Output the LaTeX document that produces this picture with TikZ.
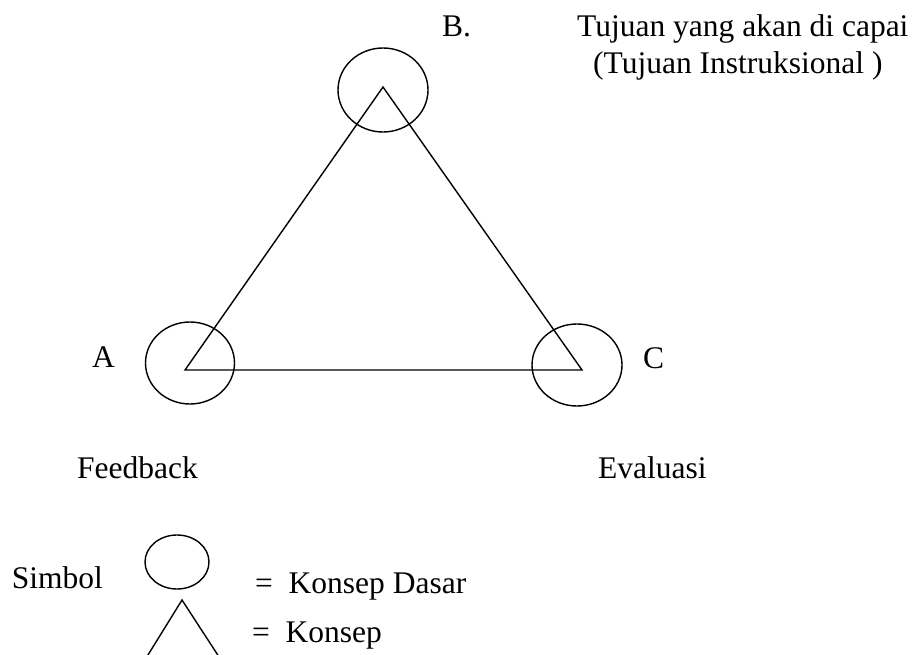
\documentclass[tikz,border=0pt]{standalone}
\usepackage{fontspec}
\setmainfont{Liberation Serif}
\begin{document}
\begin{tikzpicture}[x=1pt,y=-1pt,
  lbl/.style={inner sep=0pt,font=\fontsize{31.5}{36}\selectfont},
  ln/.style={draw=black,line width=1.4pt},
  ell/.style={draw=black,line width=1.4pt,ellipse}]
\useasboundingbox (0,0) rectangle (912,655);
\clip (0,0) rectangle (912,655);
% triangle
\coordinate (tB) at (383,87);
\coordinate (tA) at (185,370);
\coordinate (tC) at (582,370);
\draw[ln,line join=miter] (tA) -- (tB) -- (tC) -- cycle;
% circles
\draw[ln] (383,90) ellipse [x radius=45, y radius=42];
\draw[ln] (190,363) ellipse [x radius=44.5, y radius=41];
\draw[ln] (577,365) ellipse [x radius=45, y radius=41];
% labels
\node[lbl,anchor=base west] (lB) at (442,37) {B.};
\node[lbl,anchor=base west] (lB1) at (577,37) {Tujuan yang akan di capai};
\node[lbl,anchor=base west] (lB2) at (593,74) {(Tujuan Instruksional )};
\node[lbl,anchor=base west] (lA) at (92,367) {A};
\node[lbl,anchor=base west] (lC) at (643,368) {C};
\node[lbl,anchor=base west] (lF) at (77,478) {Feedback};
\node[lbl,anchor=base west] (lE) at (598,478) {Evaluasi};
% legend
\node[lbl,anchor=base east] (lS) at (103,588) {Simbol};
\draw[ln] (177,562) ellipse [x radius=32, y radius=27];
\coordinate (sA) at (182,600);
\coordinate (sL) at (143,663);
\coordinate (sR) at (223,663);
\draw[ln] (sL) -- (sA) -- (sR);
\node[lbl,anchor=base west] (lK1) at (255,593) {=\ \ Konsep Dasar};
\node[lbl,anchor=base west] (lK2) at (252,642) {=\ \ Konsep};
\end{tikzpicture}
\end{document}
